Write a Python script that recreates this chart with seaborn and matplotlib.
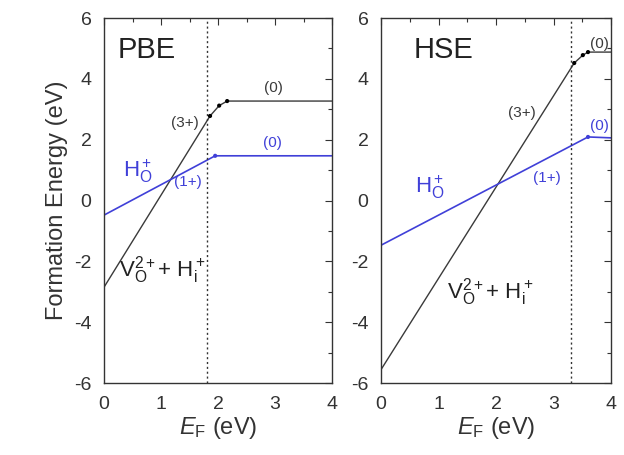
import matplotlib
matplotlib.use("Agg")
import matplotlib.pyplot as plt
import seaborn as sns
import pandas as pd
from matplotlib.ticker import MultipleLocator

# -----------------------------
# Data
# -----------------------------
pbe_vo_x = [0.0, 1.86, 2.02, 2.16, 4.0]
pbe_vo_y = [-2.85, 2.78, 3.12, 3.27, 3.27]
pbe_ho_x = [0.0, 1.95, 4.0]
pbe_ho_y = [-0.48, 1.47, 1.47]
pbe_efermi = 1.8

hse_vo_x = [0.0, 3.36, 3.51, 3.60, 4.0]
hse_vo_y = [-5.56, 4.52, 4.78, 4.88, 4.88]
hse_ho_x = [0.0, 3.60, 4.0]
hse_ho_y = [-1.47, 2.09, 2.06]
hse_efermi = 3.3

black = "#3a3a3a"
blue = "#4040d8"

sns.set_style("white")
plt.rcParams['font.family'] = ['Liberation Sans', 'DejaVu Sans']
plt.rcParams['axes.unicode_minus'] = False
plt.rcParams['mathtext.fontset'] = 'custom'
plt.rcParams['mathtext.rm'] = 'Liberation Sans'
plt.rcParams['mathtext.it'] = 'Liberation Sans:italic'

fig = plt.figure(figsize=(6.24, 4.55), dpi=100)
ax1 = fig.add_axes([0.1667, 0.1582, 0.3654, 0.8022])
ax2 = fig.add_axes([0.6106, 0.1582, 0.3686, 0.8022])


def draw_panel(ax, vo_x, vo_y, ho_x, ho_y, ef):
    vo = pd.DataFrame({"x": vo_x, "y": vo_y})
    ho = pd.DataFrame({"x": ho_x, "y": ho_y})
    sns.lineplot(data=vo, x="x", y="y", ax=ax, color=black, lw=1.0, sort=False)
    sns.lineplot(data=ho, x="x", y="y", ax=ax, color=blue, lw=1.2, sort=False)
    sns.scatterplot(data=vo.iloc[1:-1], x="x", y="y", ax=ax, color="black",
                    s=9, edgecolor="none", zorder=5)
    sns.scatterplot(data=ho.iloc[1:-1], x="x", y="y", ax=ax, color=blue,
                    s=9, edgecolor="none", zorder=5)
    ax.axvline(ef, color="#333333", lw=1.0, ls=(0, (1.5, 2)))
    ax.set_xlim(0, 4)
    ax.set_ylim(-6, 6)
    ax.xaxis.set_major_locator(MultipleLocator(1))
    ax.xaxis.set_minor_locator(MultipleLocator(0.5))
    ax.yaxis.set_major_locator(MultipleLocator(2))
    ax.yaxis.set_minor_locator(MultipleLocator(1))
    ax.tick_params(which="both", direction="in", top=True, right=True,
                   colors="#333333", labelcolor="#333333", labelsize=14, pad=9)
    ax.tick_params(which="major", length=5, width=0.8)
    ax.tick_params(which="minor", length=3, width=0.8)
    for s in ax.spines.values():
        s.set_color("#333333")
        s.set_linewidth(1.0)
    ax.set_xlabel(r"$E_\mathrm{F}$ (eV)", fontsize=17, color="#333333", labelpad=2)
    ax.set_ylabel("")


draw_panel(ax1, pbe_vo_x, pbe_vo_y, pbe_ho_x, pbe_ho_y, pbe_efermi)
draw_panel(ax2, hse_vo_x, hse_vo_y, hse_ho_x, hse_ho_y, hse_efermi)

ax1.set_ylabel("Formation Energy (eV)", fontsize=17, color="#333333", labelpad=4)

# PBE labels
ax1.text(0.23, 4.95, "PBE", fontsize=21, color="#222222", va="center")
ax1.text(2.97, 3.7, "(0)", fontsize=11, color=black, ha="center", va="center")
ax1.text(2.95, 1.9, "(0)", fontsize=11, color=blue, ha="center", va="center")
ax1.text(1.42, 2.55, "(3+)", fontsize=11, color=black, ha="center", va="center")
ax1.text(1.47, 0.6, "(1+)", fontsize=11, color=blue, ha="center", va="center")
ax1.text(0.6, 0.95, r"H$_\mathrm{O}^+$", fontsize=16, color=blue, ha="center", va="center")
ax1.text(0.27, -2.3, r"V$_\mathrm{O}^{2+}$+ H$_\mathrm{i}^+$", fontsize=16,
         color="#222222", ha="left", va="center")

# HSE labels
ax2.text(0.56, 4.95, "HSE", fontsize=21, color="#222222", va="center")
ax2.text(3.8, 5.15, "(0)", fontsize=11, color=black, ha="center", va="center")
ax2.text(2.45, 2.87, "(3+)", fontsize=11, color=black, ha="center", va="center")
ax2.text(3.8, 2.45, "(0)", fontsize=11, color=blue, ha="center", va="center")
ax2.text(2.89, 0.73, "(1+)", fontsize=11, color=blue, ha="center", va="center")
ax2.text(0.85, 0.45, r"H$_\mathrm{O}^+$", fontsize=16, color=blue, ha="center", va="center")
ax2.text(1.15, -3.0, r"V$_\mathrm{O}^{2+}$+ H$_\mathrm{i}^+$", fontsize=16,
         color="#222222", ha="left", va="center")

plt.savefig("out.png", dpi=100)
